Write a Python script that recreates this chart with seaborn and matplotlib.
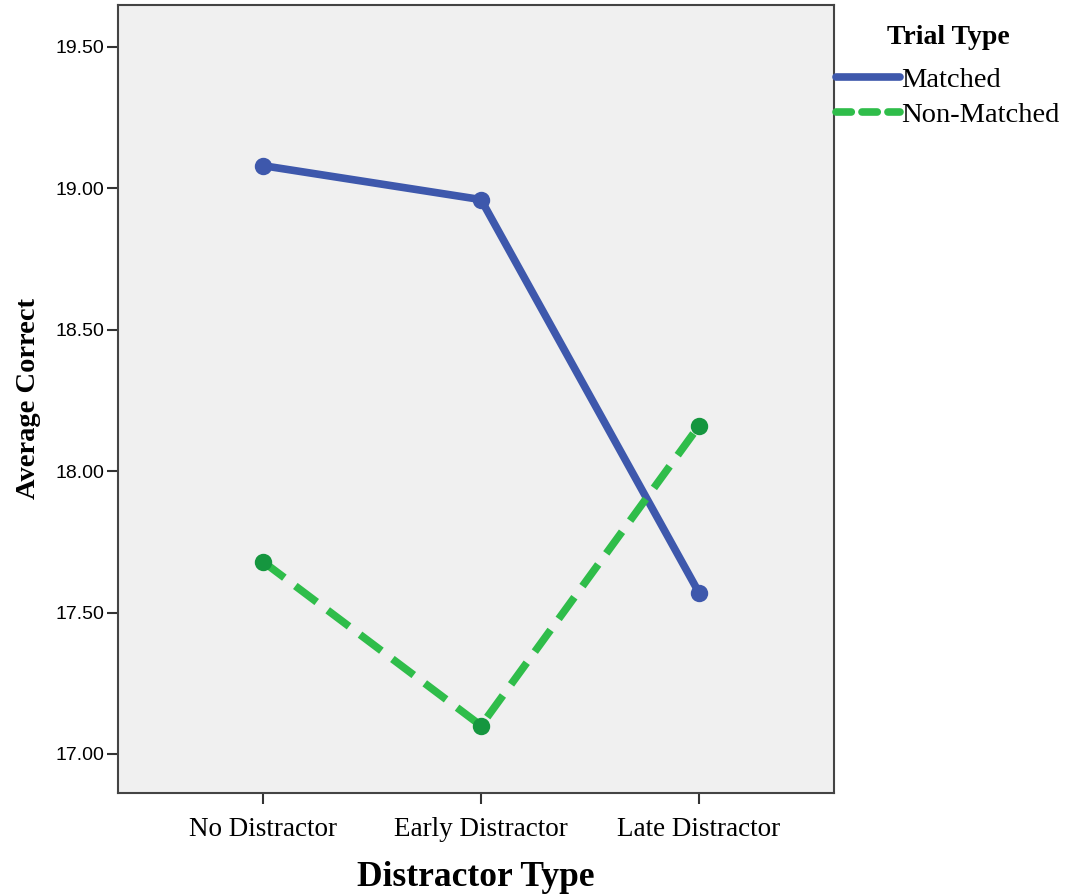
import numpy as np
import pandas as pd
import seaborn as sns
import matplotlib.pyplot as plt
from matplotlib.lines import Line2D

# values
distractors = ['No Distractor', 'Early Distractor', 'Late Distractor']
trial_types = ['Matched', 'Non-Matched']
matched = [19.08, 18.96, 17.57]
non_matched = [17.68, 17.10, 18.16]
y_ticks = [17.00, 17.50, 18.00, 18.50, 19.00, 19.50]

df = pd.DataFrame({
    'Distractor Type': distractors * 2,
    'Trial Type': ['Matched'] * 3 + ['Non-Matched'] * 3,
    'Average Correct': matched + non_matched,
})

sns.set_style('ticks')
plt.rcParams['text.color'] = 'black'
plt.rcParams['axes.labelcolor'] = 'black'
plt.rcParams['xtick.labelcolor'] = 'black'
plt.rcParams['ytick.labelcolor'] = 'black'
serif = ['Liberation Serif', 'DejaVu Serif']
sans = ['Liberation Sans', 'DejaVu Sans']

line_cols = {'Matched': '#3e58ac', 'Non-Matched': '#2fbd4a'}
marker_cols = {'Matched': '#3e58ac', 'Non-Matched': '#15963f'}

fig = plt.figure(figsize=(10.67, 8.96), dpi=100)
ax = fig.add_axes([0.1106, 0.115, 0.671, 0.8794])
ax.set_facecolor('#f0f0f0')

sns.pointplot(data=df, x='Distractor Type', y='Average Correct', hue='Trial Type',
              order=distractors, hue_order=trial_types, palette=line_cols,
              linestyles=['-', (0, (3.5, 1.8))], markers=['o', 'o'],
              ax=ax, legend=False, errorbar=None)

for ln in ax.lines:
    ln.set_linewidth(5.5)
    ln.set_markersize(10.5)
# darker marker faces for the green series
for ln, tt in zip(ax.lines, trial_types):
    ln.set_markerfacecolor(marker_cols[tt])
    ln.set_markeredgecolor(marker_cols[tt])
for coll in ax.collections:
    coll.set_visible(False)

ax.set_xlim(-0.665, 2.619)
ax.set_ylim(16.862, 19.648)
ax.set_yticks(y_ticks)
ax.set_yticklabels([f'{v:.2f}' for v in y_ticks], fontfamily=sans, fontsize=14, color='black')
ax.set_xticks(range(3))
ax.set_xticklabels(distractors, fontfamily=serif, fontsize=19.5, color='black')
ax.tick_params(axis='both', length=8, width=1.5, color='#333333')
ax.tick_params(axis='x', pad=9)
ax.tick_params(axis='y', pad=2)
for sp in ax.spines.values():
    sp.set_color('#444444')
    sp.set_linewidth(1.5)

ax.set_xlabel('Distractor Type', fontfamily=serif, fontsize=25.5, fontweight='bold',
              labelpad=14, color='black')
ax.set_ylabel('Average Correct', fontfamily=serif, fontsize=20.5, fontweight='bold',
              labelpad=10, color='black')

handles = [Line2D([], [], color=line_cols['Matched'], lw=5.5, solid_capstyle='round'),
           Line2D([], [], color=line_cols['Non-Matched'], lw=5.5, ls=(0, (2.0, 1.4)),
                  dash_capstyle='round')]
leg = fig.legend(handles, trial_types, loc='upper left', bbox_to_anchor=(0.7835, 0.972),
                 frameon=False, handlelength=2.25, handletextpad=0.05, labelspacing=0.33,
                 borderpad=0, borderaxespad=0,
                 prop={'family': serif, 'size': 20.5}, title='Trial Type',
                 title_fontproperties={'family': serif, 'size': 20, 'weight': 'bold'})
leg._legend_box.sep = 12
for t in leg.get_texts():
    t.set_color('black')
leg.get_title().set_color('black')

fig.savefig('out.png', dpi=100)
